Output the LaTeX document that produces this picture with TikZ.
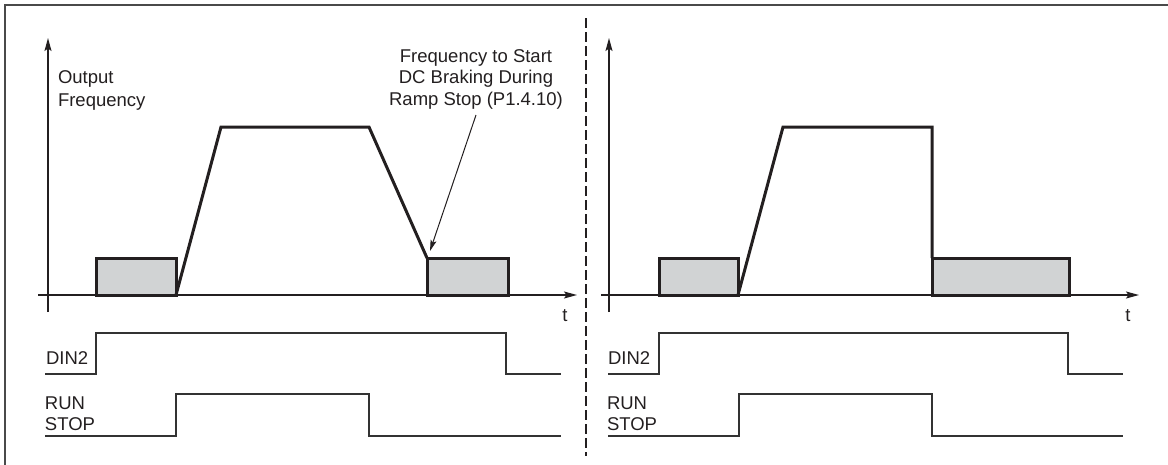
\documentclass[tikz,border=0pt]{standalone}
\usepackage{fontspec}
\setmainfont{Liberation Sans}
\usetikzlibrary{arrows.meta}
\definecolor{ink}{HTML}{231F20}
\definecolor{boxgray}{HTML}{D1D3D4}
\definecolor{framegray}{HTML}{4A4A4A}
\definecolor{sig}{HTML}{333333}
\tikzset{
  axis/.style={line width=1.4pt, draw=ink, -{Stealth[length=13pt,width=7pt,inset=2.5pt]}},
  ramp/.style={line width=3pt, draw=ink, line join=miter},
  brake/.style={line width=3pt, draw=ink, fill=boxgray},
  signal/.style={line width=1.4pt, draw=sig},
  lbl/.style={inner sep=0pt, outer sep=0pt, font=\fontsize{18.5}{22}\selectfont, text=ink},
  frameline/.style={line width=2pt, draw=framegray},
  divider/.style={line width=1.5pt, draw=ink, dash pattern=on 10pt off 4pt},
  pointer/.style={line width=1pt, draw=ink, -{Stealth[length=11pt,width=6pt,inset=2pt]}}
}
\begin{document}
\begin{tikzpicture}[x=1pt,y=-1pt]
\useasboundingbox (0,0) rectangle (1168,464);
% frame and divider
\draw[frameline] (1170,5) -- (5,5) -- (5,466);
\draw[divider] (586,18) -- (586,456);

% ===== left panel =====
\draw[brake] (96,258) rectangle (176,295);
\draw[brake] (427,258) rectangle (508,295);
\draw[axis] (48,312) -- (48,38);
\draw[axis] (38,295) -- (577,295);
\draw[ramp] (176,295) -- (221,127) -- (369,127) -- (427,258);
\node[lbl, anchor=base] (tL) at (565,321) {t};
\node[lbl, anchor=base west] (outA) at (58,83) {Output};
\node[lbl, anchor=base west] (outB) at (58,106) {Frequency};
\node[lbl, anchor=base] (annA) at (476,62) {Frequency to Start};
\node[lbl, anchor=base] (annB) at (476,83.5) {DC Braking During};
\node[lbl, anchor=base] (annC) at (476,105) {Ramp Stop (P1.4.10)};
\coordinate (annStart) at (476,115);
\coordinate (annTip) at (430,251);
\draw[pointer] (annStart) -- (annTip);
\node[lbl, anchor=base west] (dinL) at (46,364) {DIN2};
\node[lbl, anchor=base west] (runL) at (45,409) {RUN};
\node[lbl, anchor=base west] (stopL) at (45,430) {STOP};
\draw[signal] (45,374) -- (96,374) -- (96,333) -- (506,333) -- (506,374) -- (561,374);
\draw[signal] (45,436) -- (176,436) -- (176,394) -- (369,394) -- (369,436) -- (561,436);

% ===== right panel =====
\draw[brake] (659,258) rectangle (738,295);
\draw[brake] (932,258) rectangle (1069,295);
\draw[axis] (609,312) -- (609,38);
\draw[axis] (601,295) -- (1139,295);
\draw[ramp] (738,295) -- (783,127) -- (932,127) -- (932,258);
\node[lbl, anchor=base] (tR) at (1128,321) {t};
\node[lbl, anchor=base west] (dinR) at (608,364) {DIN2};
\node[lbl, anchor=base west] (runR) at (607,409) {RUN};
\node[lbl, anchor=base west] (stopR) at (607,430) {STOP};
\draw[signal] (608,374) -- (659,374) -- (659,333) -- (1068,333) -- (1068,374) -- (1123,374);
\draw[signal] (608,436) -- (739,436) -- (739,394) -- (932,394) -- (932,436) -- (1123,436);
\end{tikzpicture}
\end{document}
